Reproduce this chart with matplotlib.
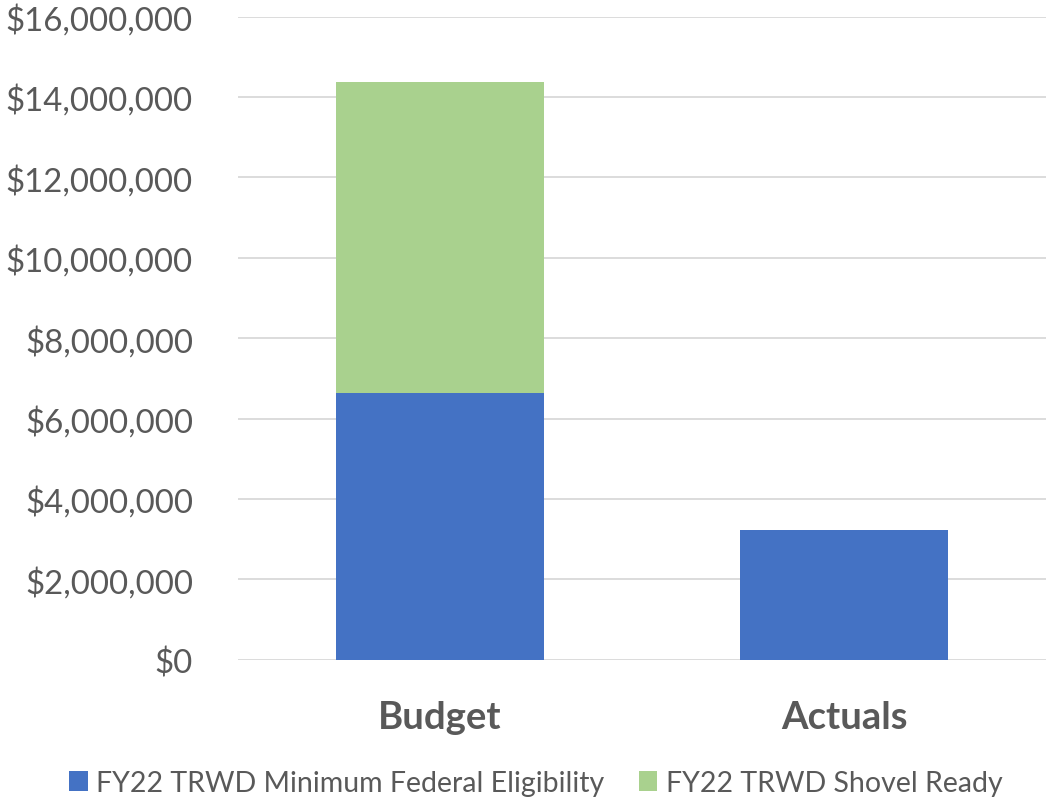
import matplotlib
matplotlib.use("Agg")
import matplotlib.pyplot as plt
from matplotlib.ticker import FuncFormatter

categories = ["Budget", "Actuals"]
min_federal = [6630000, 3220000]
shovel_ready = [7740000, 0]
series_names = ["FY22 TRWD Minimum Federal Eligibility", "FY22 TRWD Shovel Ready"]
yticks = list(range(0, 16000001, 2000000))

plt.rcParams['font.family'] = ['Lato', 'DejaVu Sans']
text_color = "#595959"

fig = plt.figure(figsize=(10.47, 8.03), dpi=100)
ax = fig.add_axes([238/1047, 1 - 660.7/803, 808/1047, (660.7 - 17.5)/803])

x = list(range(len(categories)))
w = 0.514
ax.bar(x, min_federal, width=w, color="#4472C4", label=series_names[0], zorder=3)
ax.bar(x, shovel_ready, width=w, bottom=min_federal, color="#A9D18E", label=series_names[1], zorder=3)

ax.set_xlim(-0.5, 1.5)
ax.set_ylim(0, 16000000)
ax.set_yticks(yticks)
ax.yaxis.set_major_formatter(FuncFormatter(lambda v, p: "${:,.0f}".format(v)))
ax.grid(axis="y", color="#D9D9D9", linewidth=1.3, zorder=0)
for s in ax.spines.values():
    s.set_visible(False)
ax.tick_params(axis="both", length=0)
ax.tick_params(axis="y", labelsize=23.8, labelcolor=text_color, pad=32.4)
ax.set_xticks(x)
ax.set_xticklabels(categories, fontsize=27.5, fontweight="bold", color=text_color)
ax.tick_params(axis="x", pad=29)

leg = fig.legend(loc="center", bbox_to_anchor=(536/1047, 1 - 784/803), ncol=2, frameon=False,
                 fontsize=20.5, handlelength=0.65, handleheight=0.65, handletextpad=0.3,
                 columnspacing=1.2, borderpad=0, borderaxespad=0)
for t in leg.get_texts():
    t.set_color(text_color)

fig.savefig("out.png", dpi=100)
